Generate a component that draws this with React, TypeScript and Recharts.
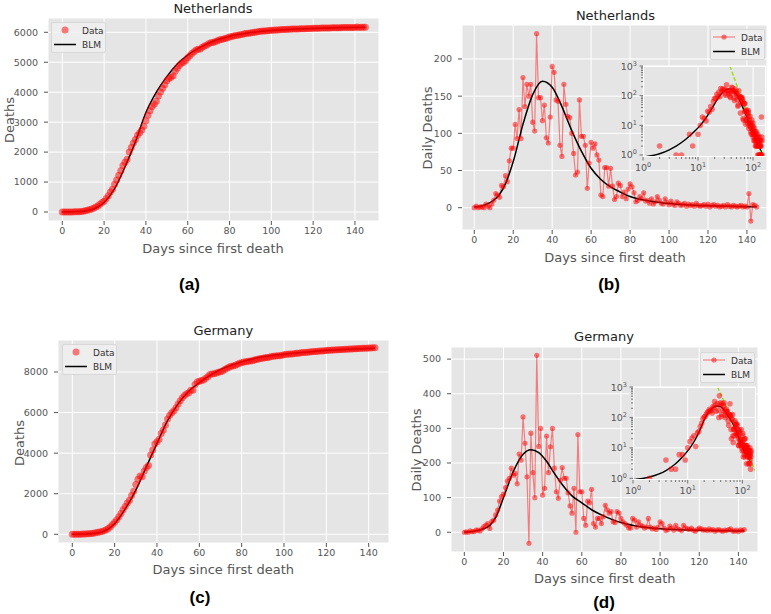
import { ComposedChart, Line, XAxis, YAxis, CartesianGrid } from 'recharts';

const FONT = '"DejaVu Sans", sans-serif';
const BG = '#e5e5e5';
const RED_DOT = 'rgba(255,0,0,0.5)';

const X_TICKS = [0, 20, 40, 60, 80, 100, 120, 140];
const LOG_X_TICKS = [1, 2, 3, 4, 5, 6, 7, 8, 9, 10, 20, 30, 40, 50, 60, 70, 80, 90, 100];
const LOG_Y_TICKS = [1, 2, 3, 4, 5, 6, 7, 8, 9, 10, 20, 30, 40, 50, 60, 70, 80, 90, 100, 200, 300, 400, 500, 600, 700, 800, 900, 1000];

// Netherlands, cumulative deaths per day (day 0..145)
const NL_CUM = [
  0, 2, 2, 3, 4, 4, 9, 11, 11, 16, 26, 45, 62, 76, 100, 125, 165, 200, 260, 320,
  360, 450, 540, 670, 760, 930, 1070, 1230, 1380, 1550, 1660, 1760, 2000, 2150, 2300, 2420, 2560, 2650, 2740, 2860,
  3050, 3230, 3380, 3520, 3600, 3700, 3870, 4010, 4130, 4250, 4380, 4460, 4500, 4550, 4700, 4800, 4890, 4970, 5000, 5060,
  5150, 5220, 5290, 5350, 5410, 5430, 5445, 5500, 5540, 5570, 5620, 5650, 5660, 5680, 5710, 5740, 5760, 5780, 5790, 5820,
  5840, 5860, 5880, 5890, 5900, 5915, 5930, 5950, 5960, 5970, 5980, 5990, 6000, 6010, 6025, 6035, 6040, 6045, 6055, 6060,
  6065, 6070, 6075, 6078, 6084, 6089, 6092, 6095, 6100, 6102, 6106, 6108, 6111, 6113, 6117, 6119, 6121, 6123, 6126, 6128,
  6132, 6133, 6135, 6138, 6140, 6142, 6143, 6145, 6147, 6148, 6151, 6152, 6153, 6155, 6156, 6157, 6158, 6160, 6161, 6162,
  6163, 6180, 6162, 6166, 6168, 6169,
];
const NL_CUM_BLM_DAYS = [0, 5, 10, 15, 20, 25, 30, 35, 40, 45, 50, 55, 60, 65, 70, 80, 90, 100, 110, 120, 130, 145];
const NL_CUM_BLM = [0, 5, 25, 100, 320, 780, 1510, 2350, 3320, 4000, 4520, 4940, 5240, 5460, 5640, 5870, 5990, 6060, 6100, 6130, 6150, 6170];

// Netherlands, daily deaths (day 0..145)
const NL_DAILY = [
  0, 2, 0, 1, 1, 0, 5, 2, 0, 5, 10, 19, 17,
  14, 30, 28, 43, 35, 63, 80, 80, 112, 93, 132, 93, 175, 136, 166, 150, 166, 115, 103, 234, 148, 148, 117, 138, 94, 87, 122,
  190, 182, 145, 143, 84, 69, 166, 139, 123, 121, 100, 73, 44, 48, 145, 96, 96, 84, 26, 60,
  88, 80, 86, 71, 64, 17, 15, 54, 54, 29, 53, 29, 11, 15, 33, 30, 15, 21, 12, 25,
  32, 28, 20, 8, 10, 15, 12, 20, 9, 10, 6, 12, 5, 8, 15, 10, 6, 5, 12, 7,
  4, 9, 5, 3, 8, 6, 3, 4, 6, 2, 5, 3, 4, 2, 6, 3, 2, 3, 4, 2,
  5, 1, 3, 4, 2, 3, 1, 2, 3, 1, 4, 2, 1, 3, 2, 1, 2, 3, 1, 2,
  1, 19, -18, 4, 3, 1,
];
const NL_BLM_DAYS = [0, 1, 2, 3, 5, 7, 10, 13, 16, 20, 25, 30, 35, 40, 45, 50, 55, 60, 65, 70, 75, 80, 90, 100, 110, 120, 130, 140, 145];
const NL_BLM = [0.85, 1.1, 1.5, 2, 3.4, 5.5, 10, 18, 32, 62, 112, 152, 170, 162, 136, 104, 76, 53, 38, 28, 21, 15, 9, 5.5, 3.6, 2.5, 1.8, 1.3, 1.1];
const NL_GUIDE_X = [38, 150];
const NL_GUIDE_Y = [1000, 0.8];

// Germany, cumulative deaths per day (day 0..143)
const GE_CUM = [
  0, 1, 1, 5, 7, 9, 15, 21, 25, 35, 51, 72, 97, 108, 139, 174, 224, 288, 378, 481,
  591, 720, 868, 1024, 1209, 1374, 1544, 1684, 1910, 2118, 2451, 2708, 2868, 2836, 3122, 3294, 3394, 3905, 4153, 4453,
  4560, 4687, 4965, 5137, 5384, 5684, 5869, 5986, 6084, 6234, 6421, 6577, 6733, 6847, 6923, 6978, 7105, 7105, 7387, 7504,
  7540, 7580, 7600, 7690, 7770, 7880, 7900, 7915, 7950, 7990, 8010, 8050, 8120, 8180, 8230, 8280, 8300, 8330, 8380, 8430,
  8460, 8490, 8510, 8530, 8540, 8550, 8590, 8620, 8635, 8660, 8680, 8700, 8710, 8725, 8760, 8775, 8785, 8795, 8805, 8820,
  8850, 8870, 8880, 8885, 8893, 8910, 8920, 8926, 8945, 8955, 8963, 8968, 8985, 8997, 9007, 9015, 9027, 9033, 9036, 9044,
  9056, 9066, 9072, 9080, 9085, 9095, 9101, 9109, 9112, 9118, 9126, 9131, 9134, 9140, 9145, 9153, 9163, 9167, 9170, 9176,
  9178, 9185, 9190, 9198,
];
const GE_CUM_BLM_DAYS = [0, 5, 10, 15, 20, 25, 30, 35, 40, 45, 50, 55, 60, 65, 70, 80, 90, 100, 110, 120, 130, 143];
const GE_CUM_BLM = [0, 10, 40, 150, 520, 1250, 2180, 3330, 4480, 5600, 6430, 7050, 7470, 7830, 8120, 8500, 8750, 8880, 8970, 9070, 9120, 9165];

// Germany, daily deaths (day 0..143)
const GE_DAILY = [
  0, 1, 0, 4, 2, 2, 6, 6, 4, 10,
  16, 21, 25, 11, 31, 35, 50, 64, 90, 103,
  110, 129, 148, 156, 185, 165, 170, 140, 226, 208,
  333, 257, 160, -32, 286, 172, 100, 511, 248, 300,
  107, 127, 278, 172, 247, 300, 185, 117, 98, 150,
  187, 156, 156, 114, 76, 55, 127, 0, 282, 117,
  117, 40, 20, 90, 85, 124, 25, 15, 40, 40,
  25, 45, 78, 65, 55, 60, 30, 28, 60, 55,
  40, 30, 25, 20, 12, 12, 40, 35, 15, 30,
  20, 18, 12, 15, 40, 15, 10, 12, 8, 15,
  30, 25, 12, 5, 8, 18, 12, 6, 20, 10,
  8, 5, 20, 12, 10, 8, 12, 6, 3, 8,
  12, 10, 6, 8, 5, 10, 6, 8, 3, 6,
  8, 5, 3, 6, 5, 8, 10, 4, 3, 6,
  2, 7, 5, 8,
];
const GE_BLM_DAYS = [0, 1, 2, 3, 5, 7, 10, 13, 16, 20, 25, 30, 34, 38, 42, 46, 50, 55, 60, 65, 70, 75, 80, 90, 100, 110, 120, 130, 143];
const GE_BLM = [0.9, 1.1, 1.4, 1.8, 3, 5, 10, 20, 42, 100, 175, 225, 238, 230, 205, 170, 138, 105, 85, 65, 50, 38, 28, 16, 10, 7, 5.5, 4.5, 3.5];
const GE_GUIDE_X = [35, 176];
const GE_GUIDE_Y = [1000, 1.58];

const pts = (xs: number[], ys: number[]) => xs.map((x, i) => ({ x, y: ys[i] }));
const series = (ys: number[]) => ys.map((y, i) => ({ x: i, y }));
const logSeries = (ys: number[]) => ys.map((y, i) => ({ x: i + 1, y })).filter((p) => p.y > 0);

function Txt({ x, y, size, color = '#555', bold = false, rotate = false, family = FONT, children }: any) {
  return (
    <div style={{
      position: 'absolute', left: x, top: y, whiteSpace: 'nowrap', lineHeight: 1,
      transform: `translate(-50%,-50%)${rotate ? ' rotate(-90deg)' : ''}`,
      fontSize: size, color, fontWeight: bold ? 700 : 400, fontFamily: family,
    }}>{children}</div>
  );
}

function LegendBox({ x, y, daily }: any) {
  return (
    <div style={{ position: 'absolute', left: x, top: y, width: 55, height: 31, background: 'rgba(240,240,240,0.85)', border: '1px solid #d8d8d8', borderRadius: 2, boxSizing: 'border-box' }}>
      <svg width={55} height={31} style={{ position: 'absolute', left: -1, top: -1 }}>
        {daily && <line x1={3} x2={25} y1={8} y2={8} stroke="rgba(255,0,0,0.45)" strokeWidth={1.2} />}
        <circle cx={14} cy={8} r={daily ? 2.6 : 3.5} fill={RED_DOT} />
        <line x1={3} x2={25} y1={22.5} y2={22.5} stroke="#000" strokeWidth={1.5} />
        <text x={31} y={11.5} fontSize={9} fill="#333" fontFamily={FONT}>Data</text>
        <text x={31} y={26} fontSize={9} fill="#333" fontFamily={FONT}>BLM</text>
      </svg>
    </div>
  );
}

const tickStyle = { fill: '#555', fontSize: 9.5, fontFamily: FONT };

function MainPanel({ rect, xDomain, yDomain, yTicks, data, blm, daily }: any) {
  const [L, T, R, B] = rect;
  const yw = 50;
  const xh = 25;
  return (
    <div style={{ position: 'absolute', left: L - yw, top: T - 5 }}>
      <ComposedChart width={R - L + yw + 3} height={B - T + 5 + xh} margin={{ top: 5, right: 3, left: 0, bottom: 0 }}>
        <CartesianGrid fill={BG} stroke="#fff" strokeWidth={1} />
        <XAxis type="number" dataKey="x" domain={xDomain} ticks={X_TICKS} interval={0} allowDataOverflow
          height={xh} axisLine={false} tickSize={4} tickMargin={2} tickLine={{ stroke: '#555' }} tick={tickStyle} />
        <YAxis type="number" domain={yDomain} ticks={yTicks} interval={0} allowDataOverflow
          width={yw} axisLine={false} tickSize={4} tickMargin={6} tickLine={{ stroke: '#555' }} tick={tickStyle} />
        {daily ? (
          <Line data={data} dataKey="y" type="linear" stroke="rgba(255,0,0,0.45)" strokeWidth={1.2}
            dot={{ r: 2.6, fill: RED_DOT, stroke: 'none', strokeWidth: 0 }} activeDot={false} isAnimationActive={false} />
        ) : (
          <Line data={data} dataKey="y" stroke="none"
            dot={{ r: 3.5, fill: RED_DOT, stroke: 'none', strokeWidth: 0 }} activeDot={false} isAnimationActive={false} />
        )}
        <Line data={blm} dataKey="y" type="monotone" stroke="#000" strokeWidth={1.5} dot={false} activeDot={false} isAnimationActive={false} />
      </ComposedChart>
    </div>
  );
}

function LogTick(props: any) {
  const { x, y, payload, vertical } = props;
  const v = payload.value;
  const lg = Math.log10(v);
  const e = Math.round(lg);
  const major = Math.abs(lg - e) < 1e-6;
  const len = major ? 3.5 : 2;
  if (vertical) {
    const ax = x + 6;
    return (
      <g>
        <line x1={ax} x2={ax - len} y1={y} y2={y} stroke="#555" strokeWidth={0.8} />
        {major && (
          <text x={ax - 6} y={y + 3.5} textAnchor="end" fontSize={9.5} fill="#555" fontFamily={FONT}>
            10<tspan dy={-4} fontSize={6.5}>{e}</tspan>
          </text>
        )}
      </g>
    );
  }
  const ay = y - 6;
  return (
    <g>
      <line x1={x} x2={x} y1={ay} y2={ay + len} stroke="#555" strokeWidth={0.8} />
      {major && (
        <text x={x} y={ay + 14} textAnchor="middle" fontSize={9.5} fill="#555" fontFamily={FONT}>
          10<tspan dy={-4} fontSize={6.5}>{e}</tspan>
        </text>
      )}
    </g>
  );
}

function Inset({ rect, xMax, yMin, data, blm, guide }: any) {
  const [L, T, R, B] = rect;
  const yw = 30;
  const xh = 18;
  const top = 12;
  return (
    <>
      <div style={{ position: 'absolute', left: L - yw, top: T - top }}>
        <ComposedChart width={R - L + yw + 2} height={B - T + top + xh} margin={{ top, right: 2, left: 0, bottom: 0 }}>
          <CartesianGrid fill={BG} stroke="#fff" strokeWidth={1} verticalValues={[10, 100]} horizontalValues={[10, 100, 1000]} />
          <XAxis type="number" dataKey="x" scale="log" domain={[1, xMax]} ticks={LOG_X_TICKS} interval={0} allowDataOverflow
            height={xh} axisLine={false} tickLine={false} tickSize={3} tickMargin={3} tick={<LogTick />} />
          <YAxis type="number" scale="log" domain={[yMin, 1000]} ticks={LOG_Y_TICKS} interval={0} allowDataOverflow
            width={yw} axisLine={false} tickLine={false} tickSize={3} tickMargin={3} tick={<LogTick vertical />} />
          <Line data={data} dataKey="y" stroke="none" dot={{ r: 2.8, fill: RED_DOT, stroke: 'none', strokeWidth: 0 }}
            activeDot={false} isAnimationActive={false} />
          <Line data={blm} dataKey="y" type="monotone" stroke="#000" strokeWidth={1.4} dot={false} activeDot={false} isAnimationActive={false} />
          <Line data={guide} dataKey="y" type="linear" stroke="#8fe000" strokeWidth={1.3} strokeDasharray="4 2" dot={false} activeDot={false} isAnimationActive={false} />
        </ComposedChart>
      </div>
      <div style={{ position: 'absolute', left: L, top: T, width: R - L, height: B - T, border: '1px solid #fff', boxSizing: 'border-box', pointerEvents: 'none' }} />
    </>
  );
}

export default function App() {
  return (
    <div style={{ position: 'absolute', left: 0, top: 0, width: 771, height: 614, background: '#fff', fontFamily: FONT, overflow: 'hidden' }}>
      {/* (a) Netherlands cumulative */}
      <MainPanel rect={[48, 18, 379, 221]} xDomain={[-6.84, 151.5]} yDomain={[-300, 6477]}
        yTicks={[0, 1000, 2000, 3000, 4000, 5000, 6000]} data={series(NL_CUM)} blm={pts(NL_CUM_BLM_DAYS, NL_CUM_BLM)} />
      <LegendBox x={51} y={22} />
      <Txt x={213} y={8} size={13} color="#222">Netherlands</Txt>
      <Txt x={213} y={247.5} size={13}>Days since first death</Txt>
      <Txt x={9} y={120} size={13} rotate>Deaths</Txt>
      <Txt x={189.5} y={283.5} size={17} color="#000" bold family='"Liberation Sans", Arial, sans-serif'>(a)</Txt>

      {/* (b) Netherlands daily */}
      <MainPanel rect={[462, 25, 767, 230]} xDomain={[-6.3, 150.3]} yDomain={[-30, 245.7]}
        yTicks={[0, 50, 100, 150, 200]} data={series(NL_DAILY)} blm={pts(NL_BLM_DAYS, NL_BLM)} daily />
      <Inset rect={[643, 66, 766, 157]} xMax={172} yMin={0.856} data={logSeries(NL_DAILY)}
        blm={pts(NL_BLM_DAYS.map((d) => d + 1), NL_BLM)} guide={pts(NL_GUIDE_X, NL_GUIDE_Y)} />
      <LegendBox x={710} y={29} daily />
      <Txt x={615.5} y={14.5} size={13} color="#222">Netherlands</Txt>
      <Txt x={615} y={256.5} size={13}>Days since first death</Txt>
      <Txt x={427} y={128} size={13} rotate>Daily Deaths</Txt>
      <Txt x={609} y={283.5} size={17} color="#000" bold family='"Liberation Sans", Arial, sans-serif'>(b)</Txt>

      {/* (c) Germany cumulative */}
      <MainPanel rect={[58, 340, 389, 543]} xDomain={[-6.75, 149.6]} yDomain={[-429, 9577]}
        yTicks={[0, 2000, 4000, 6000, 8000]} data={series(GE_CUM)} blm={pts(GE_CUM_BLM_DAYS, GE_CUM_BLM)} />
      <LegendBox x={62} y={344} />
      <Txt x={223.3} y={330} size={13} color="#222">Germany</Txt>
      <Txt x={223.3} y={569} size={13}>Days since first death</Txt>
      <Txt x={19} y={443} size={13} rotate>Deaths</Txt>
      <Txt x={200} y={596.5} size={17} color="#000" bold family='"Liberation Sans", Arial, sans-serif'>(c)</Txt>

      {/* (d) Germany daily */}
      <MainPanel rect={[451, 347, 758, 552]} xDomain={[-6.8, 150]} yDomain={[-57, 535]}
        yTicks={[0, 100, 200, 300, 400, 500]} data={series(GE_DAILY)} blm={pts(GE_BLM_DAYS, GE_BLM)} daily />
      <Inset rect={[633, 387, 756, 480]} xMax={177} yMin={0.88} data={logSeries(GE_DAILY)}
        blm={pts(GE_BLM_DAYS.map((d) => d + 1), GE_BLM)} guide={pts(GE_GUIDE_X, GE_GUIDE_Y)} />
      <LegendBox x={700} y={352} daily />
      <Txt x={604} y={336} size={13} color="#222">Germany</Txt>
      <Txt x={604.7} y={577.5} size={13}>Days since first death</Txt>
      <Txt x={416} y={450} size={13} rotate>Daily Deaths</Txt>
      <Txt x={604} y={601.5} size={17} color="#000" bold family='"Liberation Sans", Arial, sans-serif'>(d)</Txt>
    </div>
  );
}
